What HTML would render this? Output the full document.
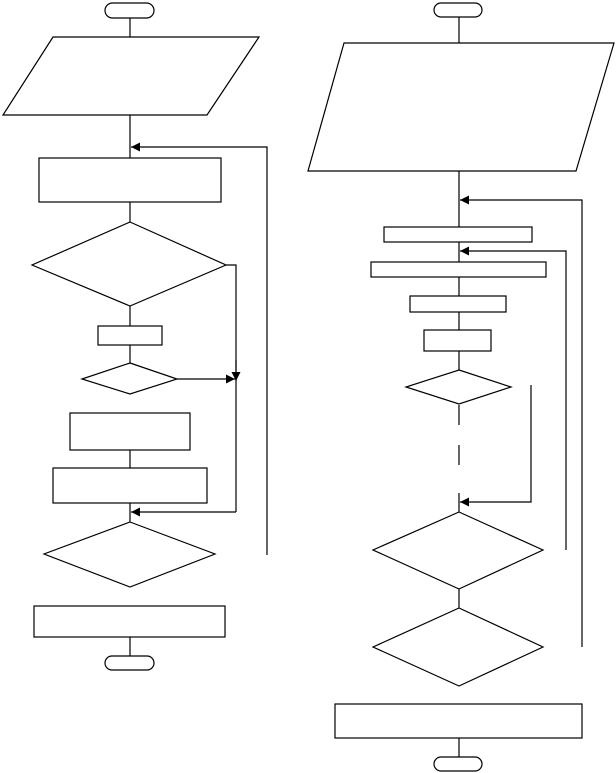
<!DOCTYPE html>
<html><head><meta charset="utf-8"><style>html,body{margin:0;padding:0;background:#fff}svg{display:block}</style></head>
<body>
<svg width="616" height="773" viewBox="0 0 616 773" xmlns="http://www.w3.org/2000/svg" fill="none" stroke="#000" stroke-width="1.2">
<defs>
<marker id="a" viewBox="0 0 10 10" refX="10" refY="5" markerWidth="12" markerHeight="9" markerUnits="userSpaceOnUse" orient="auto"><path d="M0,0L10,5L0,10z" fill="#000" stroke="none"/></marker>
</defs>
<!-- LEFT -->
<rect x="105" y="3" width="49" height="15" rx="7.5"/>
<line x1="130" y1="18" x2="130" y2="37"/>
<polygon points="53,37 259,37 207,115 3,115"/>
<line x1="130" y1="115" x2="130" y2="158"/>
<polyline points="267,555 267,147 131,147" marker-end="url(#a)"/>
<rect x="39" y="158" width="182" height="44"/>
<line x1="130" y1="202" x2="130" y2="222"/>
<polygon points="130,222 226,265 130,306 32,265"/>
<polyline points="226,265 236,265 236,512"/>
<line x1="236" y1="360" x2="236" y2="381" marker-end="url(#a)"/>
<line x1="130" y1="306" x2="130" y2="326"/>
<rect x="98" y="326" width="64" height="19"/>
<line x1="130" y1="345" x2="130" y2="363"/>
<polygon points="130,363 177,379 130,394 82,379"/>
<line x1="177" y1="379" x2="235" y2="379" marker-end="url(#a)"/>
<rect x="70" y="413" width="120" height="37"/>
<line x1="130" y1="450" x2="130" y2="468"/>
<rect x="53" y="468" width="154" height="35"/>
<line x1="130" y1="503" x2="130" y2="522"/>
<line x1="236" y1="512" x2="131" y2="512" marker-end="url(#a)"/>
<polygon points="130,522 215,554 130,587 44,554"/>
<rect x="34" y="606" width="191" height="31"/>
<line x1="130" y1="637" x2="130" y2="656"/>
<rect x="105" y="656" width="49" height="14" rx="7"/>
<!-- RIGHT -->
<rect x="434" y="3" width="48" height="14" rx="7"/>
<line x1="459" y1="17" x2="459" y2="43"/>
<polygon points="344,43 614,43 576,171 308,171"/>
<line x1="459" y1="171" x2="459" y2="227"/>
<polyline points="582,647 582,200 460,200" marker-end="url(#a)"/>
<rect x="384" y="227" width="148" height="15"/>
<line x1="459" y1="242" x2="459" y2="262"/>
<polyline points="566,550 566,251 460,251" marker-end="url(#a)"/>
<rect x="371" y="262" width="175" height="15"/>
<line x1="459" y1="277" x2="459" y2="296"/>
<rect x="410" y="296" width="96" height="16"/>
<line x1="459" y1="312" x2="459" y2="330"/>
<rect x="424" y="330" width="67" height="21"/>
<line x1="459" y1="351" x2="459" y2="370"/>
<polygon points="459,370 511,387 459,404 406,387"/>
<line x1="459" y1="405" x2="459" y2="425"/>
<line x1="459" y1="445" x2="459" y2="465"/>
<line x1="459" y1="493" x2="459" y2="512"/>
<polyline points="531,385 531,502 460,502" marker-end="url(#a)"/>
<polygon points="459,512 543,550 459,589 373,550"/>
<line x1="459" y1="589" x2="459" y2="608"/>
<polygon points="459,608 543,647 459,686 373,647"/>
<rect x="335" y="704" width="247" height="34"/>
<line x1="459" y1="738" x2="459" y2="757"/>
<rect x="434" y="757" width="48" height="14" rx="7"/>
</svg>
</body></html>
